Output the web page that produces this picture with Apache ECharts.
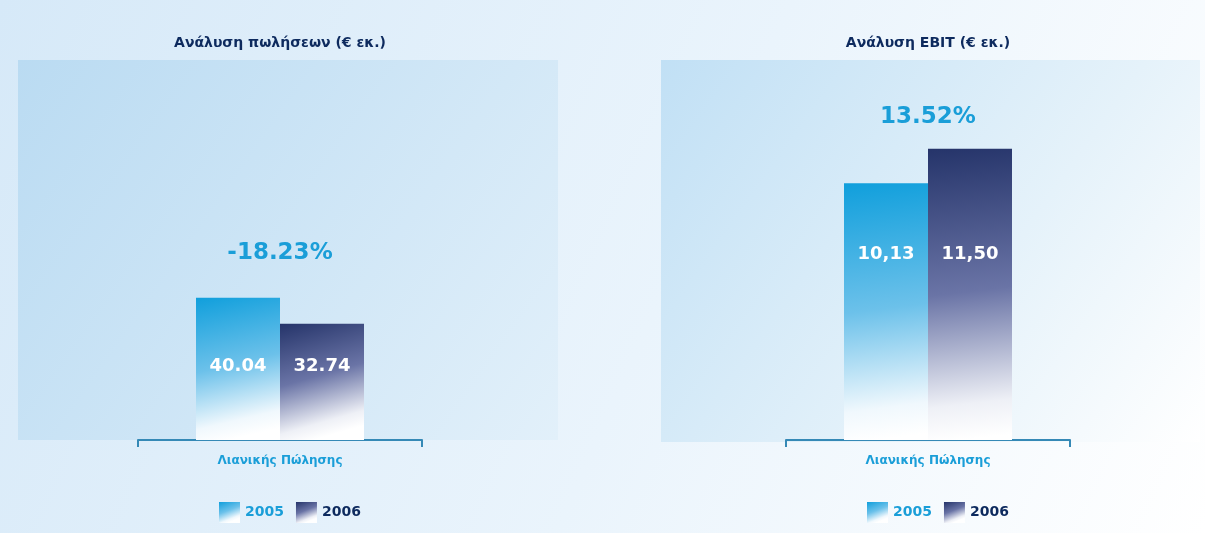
<!DOCTYPE html>
<html>
<head>
<meta charset="utf-8">
<script src="https://cdn.jsdelivr.net/npm/echarts@6/dist/echarts.min.js"></script>
<style>
html,body{margin:0;padding:0;background:#fff;}
#c{width:1205px;height:533px;}
</style>
</head>
<body>
<div id="c"></div>
<script>
// ---- data ----
const chartTitles = ['Ανάλυση πωλήσεων (€ εκ.)', 'Ανάλυση EBIT (€ εκ.)'];
const categories = ['Λιανικής Πώλησης'];
const seriesNames = ['2005', '2006'];
const salesValues = [40.04, 32.74];
const ebitValues = [10.13, 11.50];
const yMaxValues = [107, 15];
const labelDecimalSep = ['.', ','];

// ---- layout ----
const GRID_TOP = 60, GRID_H = 380;
const grids = [{left: 138, width: 284}, {left: 786, width: 284}];
const labelLevels = [20.8, 7.34];      // value level where in-bar labels sit
const pctY = [253, 117];
const FONT = '"DejaVu Sans", sans-serif';

function grad(c0, c1, c2) {
  return new echarts.graphic.LinearGradient(0, 0, 0.4, 1, [
    {offset: 0, color: c0}, {offset: 0.5, color: c1},
    {offset: 0.88, color: c2}, {offset: 1, color: '#ffffff'}]);
}
const colors2005 = grad('#109fdc', '#6cc1ea', '#f0f8fd');
const colors2006 = grad('#25346a', '#6a74a6', '#eef0f6');

const allValues = [salesValues, ebitValues];
const series = [];
allValues.forEach((vals, gi) => {
  vals.forEach((v, si) => {
    const offset = (v - labelLevels[gi]) * GRID_H / yMaxValues[gi];
    series.push({
      name: seriesNames[si],
      type: 'bar',
      xAxisIndex: gi, yAxisIndex: gi,
      barWidth: 84, barGap: '0%',
      itemStyle: {color: si === 0 ? colors2005 : colors2006},
      label: {
        show: true, position: ['50%', offset], align: 'center', verticalAlign: 'middle',
        color: '#ffffff', fontFamily: FONT, fontWeight: 'bold', fontSize: 18,
        formatter: p => p.value.toFixed(2).replace('.', labelDecimalSep[gi])
      },
      emphasis: {disabled: true},
      data: [v]
    });
  });
});

function pct(vals) {
  const p = (vals[1] / vals[0] - 1) * 100;
  return p.toFixed(2) + '%';
}

const centers = grids.map(g => g.left + g.width / 2);

const option = {
  animation: false,
  backgroundColor: new echarts.graphic.LinearGradient(0, 0, 1, 1, [
    {offset: 0, color: '#d6e9f8'}, {offset: 0.55, color: '#eaf4fc'}, {offset: 1, color: '#ffffff'}]),
  graphic: [
    {type: 'rect', z: -10, shape: {x: 18, y: 60, width: 540, height: 380},
      style: {fill: new echarts.graphic.LinearGradient(0, 0, 1, 1, [
        {offset: 0, color: '#badbf2'}, {offset: 1, color: '#e2f0fa'}])}},
    {type: 'rect', z: -10, shape: {x: 661, y: 60, width: 539, height: 382},
      style: {fill: new echarts.graphic.LinearGradient(0, 0, 1, 1, [
        {offset: 0, color: '#c1e0f5'}, {offset: 0.6, color: '#e5f2fa'}, {offset: 1, color: '#ffffff'}])}},
    ...chartTitles.map((t, i) => ({type: 'text', z: 10,
      style: {text: t, x: centers[i], y: 43, textAlign: 'center', textVerticalAlign: 'middle',
        fill: '#0d2a5e', font: 'bold 14px ' + FONT}})),
    ...allValues.map((vals, i) => ({type: 'text', z: 10,
      style: {text: pct(vals), x: centers[i], y: pctY[i], textAlign: 'center', textVerticalAlign: 'middle',
        fill: '#1a9ed8', font: 'bold 23px ' + FONT}}))
  ],
  grid: grids.map(g => ({left: g.left, width: g.width, top: GRID_TOP, height: GRID_H})),
  legend: [
    {left: 214, top: 497},
    {left: 862, top: 497}
  ].map(pos => Object.assign({
    icon: 'rect', itemWidth: 21, itemHeight: 21, itemGap: 12,
    selectedMode: false,
    data: [
      {name: seriesNames[0], textStyle: {color: '#1a9ed8'}},
      {name: seriesNames[1], textStyle: {color: '#0d2a5e'}}
    ],
    textStyle: {fontFamily: FONT, fontWeight: 'bold', fontSize: 14}
  }, pos)),
  xAxis: grids.map((g, i) => ({
    type: 'category', gridIndex: i, data: categories,
    axisLine: {lineStyle: {color: '#3589b6', width: 2}},
    axisTick: {show: true, length: 7, lineStyle: {color: '#3589b6', width: 2}},
    axisLabel: {color: '#1a9ed8', fontFamily: FONT, fontWeight: 'bold', fontSize: 12, margin: 15}
  })),
  yAxis: grids.map((g, i) => ({
    type: 'value', gridIndex: i, min: 0, max: yMaxValues[i], show: false,
    splitLine: {show: false}
  })),
  series: series
};

const chart = echarts.init(document.getElementById('c'), null, {renderer: 'canvas'});
chart.setOption(option);
</script>
</body>
</html>
